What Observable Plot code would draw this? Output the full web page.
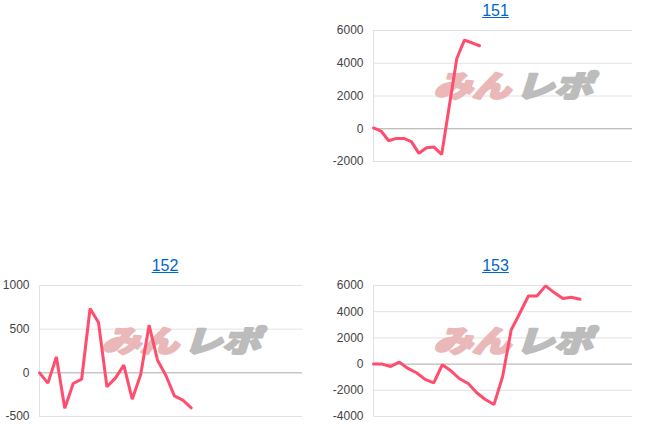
<!DOCTYPE html>
<html><head><meta charset="utf-8">
<script src="https://cdn.jsdelivr.net/npm/d3@7"></script>
<script src="https://cdn.jsdelivr.net/npm/@observablehq/plot@0.6"></script>
<style>
body{margin:0;background:#fff;font-family:"Liberation Sans",Arial,sans-serif;}
#root{position:relative;width:661px;height:426px;overflow:hidden;}
.panel{position:absolute;}
.panel svg{position:absolute;left:0;top:0;}
.title{position:absolute;left:0;width:100%;text-align:center;font-size:16px;line-height:16px;}
.title a{color:#0066cc;text-decoration:underline;}
</style></head><body><div id="root"></div>
<script>
// chart data
const titles = ["151", "152", "153"];
const values151 = [50, -140, -730, -590, -590, -790, -1500, -1160, -1120, -1570, 1360, 4290, 5410, 5250, 5070];
const values152 = [0, -118, 183, -405, -122, -73, 737, 577, -160, -61, 88, -302, -23, 546, 145, -31, -264, -313, -401];
const values153 = [0, 0, -180, 150, -330, -660, -1170, -1430, -50, -510, -1120, -1480, -2190, -2700, -3090, -970, 2600, 3880, 5200, 5200, 5970, 5460, 5000, 5100, 4950];
const yTicks151 = [-2000, 0, 2000, 4000, 6000];
const yTicks152 = [-500, 0, 500, 1000];
const yTicks153 = [-4000, -2000, 0, 2000, 4000, 6000];
const xSpans = [34.2, 31.2, 30.1];
const watermark = ["みん", "レポ"];

// layout (not data)
const panels = [
  {title: titles[0], values: values151, ticks: yTicks151, span: xSpans[0], left: 330, top: 0, w: 331, h: 175, mt: 30, mb: 14, ml: 43, mr: 29, titleTop: 3},
  {title: titles[1], values: values152, ticks: yTicks152, span: xSpans[1], left: 0, top: 250, w: 330, h: 176, mt: 35, mb: 10, ml: 39, mr: 28, titleTop: 8},
  {title: titles[2], values: values153, ticks: yTicks153, span: xSpans[2], left: 330, top: 250, w: 331, h: 176, mt: 35, mb: 10, ml: 43, mr: 29, titleTop: 8}
];

const root = document.getElementById("root");
const FONT = '"Liberation Sans", Arial, sans-serif';

for (const p of panels) {
  const div = document.createElement("div");
  div.className = "panel";
  div.style.left = p.left + "px";
  div.style.top = p.top + "px";
  div.style.width = p.w + "px";
  div.style.height = p.h + "px";

  const ticks = p.ticks;
  const wmStyle = {frameAnchor: "middle", dy: -9, text: d => d, fontSize: 30, fontWeight: 900, fontStyle: "italic", fontFamily: '"Noto Sans CJK JP"', strokeWidth: 2.2, ariaLabel: () => "wm"};
  const svg = Plot.plot({
    width: p.w, height: p.h,
    marginTop: p.mt, marginBottom: p.mb, marginLeft: p.ml, marginRight: p.mr,
    style: {fontFamily: FONT, fontSize: "12px", color: "#444", background: "transparent", overflow: "visible"},
    x: {domain: [0, p.span], axis: null},
    y: {domain: [d3.min(ticks), d3.max(ticks)], ticks: ticks, tickFormat: d => String(d), tickSize: 0, tickPadding: 10, label: null},
    marks: [
      Plot.ruleY(ticks.filter(t => t !== 0), {stroke: "#e2e2e2"}),
      Plot.ruleX([0], {stroke: "#e2e2e2"}),
      Plot.text([watermark[0]], {...wmStyle, dx: -31, fill: "#eab8b8", stroke: "#eab8b8"}),
      Plot.text([watermark[1]], {...wmStyle, dx: 51, fill: "#bcbcbc", stroke: "#bcbcbc"}),
      Plot.ruleY([0], {stroke: "#aaaaaa"}),
      Plot.line(p.values, {x: (d, i) => i, y: d => d, stroke: "#ff4d6d", strokeWidth: 3, strokeLinejoin: "miter"})
    ]
  });
  d3.select(svg).selectAll('text[aria-label="wm"], g[aria-label="wm"] text')
    .attr("textLength", 77).attr("lengthAdjust", "spacingAndGlyphs");
  div.appendChild(svg);

  const t = document.createElement("div");
  t.className = "title";
  t.style.top = p.titleTop + "px";
  const a = document.createElement("a");
  a.href = "#";
  a.textContent = p.title;
  t.appendChild(a);
  div.appendChild(t);
  root.appendChild(div);
}
</script>
</body></html>
